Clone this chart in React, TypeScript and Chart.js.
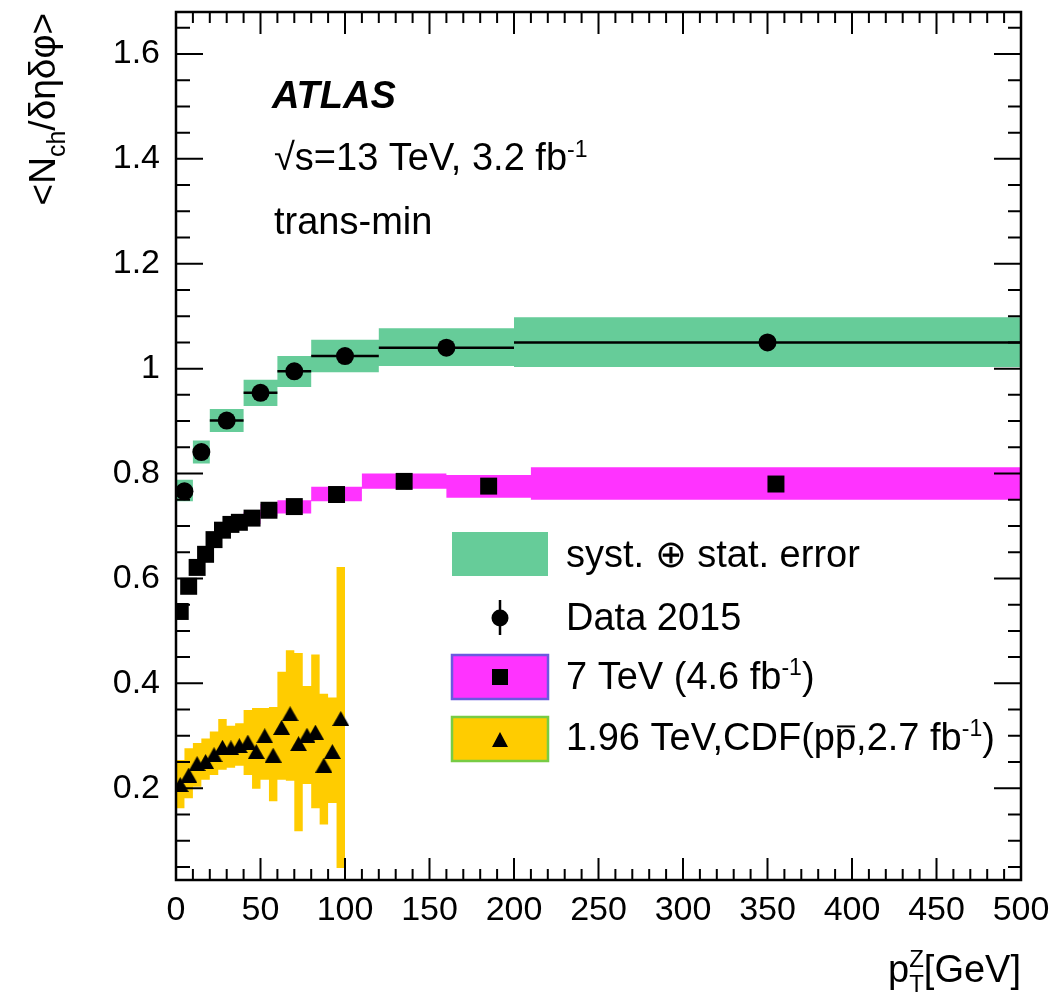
import React, { useEffect, useRef } from "react";
import { Chart, registerables } from "chart.js";

Chart.register(...registerables);

const FONT = "'Liberation Sans', Arial, Helvetica, sans-serif";
const TXT = 38;

// ---- axis ticks ----
const xTickValues = [0, 50, 100, 150, 200, 250, 300, 350, 400, 450, 500];
const yTickValues = [0.2, 0.4, 0.6, 0.8, 1.0, 1.2, 1.4, 1.6];
const yTickLabels = ["0.2", "0.4", "0.6", "0.8", "1", "1.2", "1.4", "1.6"];

// ---- Data 2015 (13 TeV) ----
const dataEdges = [0, 10, 20, 40, 60, 80, 120, 200, 500];
const dataCenters = [5, 15, 30, 50, 70, 100, 160, 350];
const dataValues = [0.766, 0.841, 0.901, 0.954, 0.995, 1.024, 1.04, 1.05];
const dataBandLow = [0.747, 0.819, 0.879, 0.929, 0.965, 0.993, 1.005, 1.003];
const dataBandHigh = [0.788, 0.863, 0.923, 0.979, 1.024, 1.055, 1.077, 1.098];

// ---- 7 TeV ----
const sevenEdges = [0, 5, 10, 15, 20, 25, 30, 35, 40, 50, 60, 80, 110, 160, 210, 500];
const sevenCenters = [2.5, 7.5, 12.5, 17.5, 22.5, 27.5, 32.5, 37.5, 45, 55, 70, 95, 135, 185, 355];
const sevenValues = [0.537, 0.585, 0.621, 0.646, 0.674, 0.692, 0.703, 0.707, 0.715, 0.73, 0.737, 0.76, 0.785, 0.776, 0.78];
const sevenBandLow = [0.527, 0.575, 0.611, 0.636, 0.663, 0.681, 0.692, 0.696, 0.704, 0.718, 0.724, 0.747, 0.771, 0.754, 0.75];
const sevenBandHigh = [0.547, 0.595, 0.631, 0.656, 0.685, 0.703, 0.714, 0.718, 0.726, 0.742, 0.749, 0.775, 0.8, 0.797, 0.812];

// ---- CDF 1.96 TeV ----
const cdfEdges = [0, 5, 10, 15, 20, 25, 30, 35, 40, 45, 50, 55, 60, 65, 70, 75, 80, 85, 90, 95, 100];
const cdfCenters = [2.5, 7.5, 12.5, 17.5, 22.5, 27.5, 32.5, 37.5, 42.5, 47.5, 52.5, 57.5, 62.5, 67.5, 72.5, 77.5, 82.5, 87.5, 92.5, 97.5];
const cdfValues = [0.207, 0.225, 0.247, 0.251, 0.264, 0.278, 0.277, 0.281, 0.288, 0.27, 0.3, 0.263, 0.316, 0.342, 0.285, 0.301, 0.307, 0.244, 0.27, 0.333];
const cdfBandLow = [0.162, 0.181, 0.203, 0.216, 0.225, 0.235, 0.239, 0.243, 0.225, 0.199, 0.216, 0.175, 0.216, 0.214, 0.118, 0.208, 0.162, 0.131, 0.172, 0.048];
const cdfBandHigh = [0.254, 0.276, 0.286, 0.295, 0.308, 0.332, 0.319, 0.324, 0.349, 0.353, 0.353, 0.355, 0.422, 0.463, 0.458, 0.395, 0.455, 0.38, 0.373, 0.622];

const GREEN = "#66CC99";
const MAGENTA = "#FF33FF";
const YELLOW = "#FFCC00";
const MAGENTA_EDGE = "#6A5ADF";
const YELLOW_EDGE = "#77CC44";

function stepPoints(edges: number[], vals: number[]) {
  const pts = vals.map((v, i) => ({ x: edges[i], y: v }));
  pts.push({ x: edges[edges.length - 1], y: vals[vals.length - 1] });
  return pts;
}

function pairPoints(xs: number[], ys: number[]) {
  return xs.map((x, i) => ({ x, y: ys[i] }));
}

function xErrPoints(edges: number[], vals: number[]) {
  const pts: { x: number; y: number | null }[] = [];
  vals.forEach((v, i) => {
    pts.push({ x: edges[i], y: v });
    pts.push({ x: edges[i + 1], y: v });
    pts.push({ x: edges[i + 1], y: null });
  });
  return pts;
}

type Part = { t: string; size: number; dy?: number; bold?: boolean; italic?: boolean; over?: boolean };

function fontOf(p: Part) {
  return `${p.italic ? "italic " : ""}${p.bold ? "bold " : ""}${p.size}px ${FONT}`;
}

function partsWidth(ctx: CanvasRenderingContext2D, parts: Part[]) {
  let w = 0;
  for (const p of parts) {
    ctx.font = fontOf(p);
    w += ctx.measureText(p.t).width;
  }
  return w;
}

function drawParts(ctx: CanvasRenderingContext2D, x: number, y: number, parts: Part[]) {
  let cx = x;
  for (const p of parts) {
    ctx.font = fontOf(p);
    const dy = p.dy || 0;
    ctx.fillText(p.t, cx, y + dy);
    const w = ctx.measureText(p.t).width;
    if (p.over) {
      ctx.save();
      ctx.lineWidth = 2;
      ctx.beginPath();
      ctx.moveTo(cx + 2, y + dy - p.size * 0.62);
      ctx.lineTo(cx + w - 1, y + dy - p.size * 0.62);
      ctx.stroke();
      ctx.restore();
    }
    cx += w;
  }
  return cx;
}

function makeTriangle(w: number, h: number) {
  const c = document.createElement("canvas");
  c.width = w;
  c.height = h;
  const g = c.getContext("2d")!;
  g.fillStyle = "#000";
  g.beginPath();
  g.moveTo(0, h);
  g.lineTo(w, h);
  g.lineTo(w / 2, 0);
  g.closePath();
  g.fill();
  return c;
}

const decorPlugin = {
  id: "atlasDecor",
  afterDatasetsDraw(chart: any) {
    const { ctx, chartArea: ca, scales } = chart;
    const xs = scales.x;
    const ys = scales.y;
    ctx.save();
    ctx.strokeStyle = "#000";
    ctx.lineWidth = 2;
    ctx.beginPath();
    for (let v = 0; v <= 500; v += 10) {
      const px = xs.getPixelForValue(v);
      const len = v % 50 === 0 ? 22 : 11;
      ctx.moveTo(px, ca.bottom);
      ctx.lineTo(px, ca.bottom - len);
      ctx.moveTo(px, ca.top);
      ctx.lineTo(px, ca.top + len);
    }
    for (let k = 1; k <= 33; k++) {
      const v = k * 0.05;
      const py = ys.getPixelForValue(v);
      if (py < ca.top || py > ca.bottom) continue;
      const major = k % 4 === 0;
      const lenL = major ? 27 : 14;
      const lenR = major ? 27 : 13;
      ctx.moveTo(ca.left, py);
      ctx.lineTo(ca.left + lenL, py);
      ctx.moveTo(ca.right, py);
      ctx.lineTo(ca.right - lenR, py);
    }
    ctx.stroke();
    ctx.lineWidth = 2.5;
    ctx.strokeRect(ca.left, ca.top, ca.right - ca.left, ca.bottom - ca.top);
    ctx.restore();
  },
  afterDraw(chart: any) {
    const { ctx } = chart;
    ctx.save();
    ctx.fillStyle = "#000";
    ctx.strokeStyle = "#000";
    ctx.textBaseline = "alphabetic";
    ctx.textAlign = "left";

    // ATLAS label block
    drawParts(ctx, 272, 108, [{ t: "ATLAS", size: TXT, bold: true, italic: true }]);
    drawParts(ctx, 274, 170, [
      { t: "\u221As=13 TeV, 3.2 fb", size: TXT },
      { t: "-1", size: 23, dy: -13 },
    ]);
    drawParts(ctx, 274, 234, [{ t: "trans-min", size: TXT }]);

    // Y axis title (rotated)
    const yParts: Part[] = [
      { t: "<N", size: 37 },
      { t: "ch", size: 25, dy: 10 },
      { t: "/\u03B4\u03B7\u03B4\u03C6>", size: 37 },
    ];
    const yw = partsWidth(ctx, yParts);
    ctx.save();
    ctx.translate(55, 13 + yw);
    ctx.rotate(-Math.PI / 2);
    drawParts(ctx, 0, 0, yParts);
    ctx.restore();

    // X axis title: p_T^Z[GeV], right aligned
    ctx.font = `${TXT}px ${FONT}`;
    const wGeV = ctx.measureText("[GeV]").width;
    const wP = ctx.measureText("p").width;
    ctx.font = `24px ${FONT}`;
    const wZ = Math.max(ctx.measureText("Z").width, ctx.measureText("T").width);
    const xRight = 1021;
    const base = 982;
    const xStart = xRight - wGeV - wZ - wP;
    ctx.font = `${TXT}px ${FONT}`;
    ctx.fillText("p", xStart, base);
    ctx.font = `24px ${FONT}`;
    ctx.fillText("Z", xStart + wP, base - 15);
    ctx.fillText("T", xStart + wP, base + 10);
    ctx.font = `${TXT}px ${FONT}`;
    ctx.fillText("[GeV]", xStart + wP + wZ, base);

    // Legend
    const bx = 452;
    const bw = 96;
    const bh = 44;
    ctx.fillStyle = GREEN;
    ctx.fillRect(bx, 532, bw, bh);

    ctx.fillStyle = MAGENTA;
    ctx.fillRect(bx, 655, bw, bh);
    ctx.strokeStyle = MAGENTA_EDGE;
    ctx.lineWidth = 2.5;
    ctx.strokeRect(bx, 655, bw, bh);

    ctx.fillStyle = YELLOW;
    ctx.fillRect(bx, 717, bw, bh);
    ctx.strokeStyle = YELLOW_EDGE;
    ctx.strokeRect(bx, 717, bw, bh);

    ctx.fillStyle = "#000";
    ctx.strokeStyle = "#000";
    // data marker
    ctx.lineWidth = 2.5;
    ctx.beginPath();
    ctx.moveTo(500, 600);
    ctx.lineTo(500, 635);
    ctx.stroke();
    ctx.beginPath();
    ctx.arc(500, 618, 8.5, 0, Math.PI * 2);
    ctx.fill();
    // square marker
    ctx.fillRect(492, 669, 16, 16);
    // triangle marker
    ctx.beginPath();
    ctx.moveTo(492, 747);
    ctx.lineTo(508, 747);
    ctx.lineTo(500, 732);
    ctx.closePath();
    ctx.fill();

    const tx = 566;
    drawParts(ctx, tx, 567, [{ t: "syst. \u2295 stat. error", size: TXT }]);
    drawParts(ctx, tx, 630, [{ t: "Data 2015", size: TXT }]);
    drawParts(ctx, tx, 689, [
      { t: "7 TeV (4.6 fb", size: TXT },
      { t: "-1", size: 23, dy: -14 },
      { t: ")", size: TXT },
    ]);
    drawParts(ctx, tx, 750, [
      { t: "1.96 TeV,CDF(p", size: TXT },
      { t: "p", size: TXT, over: true },
      { t: ",2.7 fb", size: TXT },
      { t: "-1", size: 23, dy: -14 },
      { t: ")", size: TXT },
    ]);
    ctx.restore();
  },
};

export default function App() {
  const ref = useRef<HTMLCanvasElement | null>(null);

  useEffect(() => {
    if (!ref.current) return;
    const tri = makeTriangle(17, 15);

    const bandCommon = {
      type: "line" as const,
      pointRadius: 0,
      borderWidth: 0,
      borderColor: "transparent",
      stepped: true,
      showLine: true,
      order: 5,
    };

    const chart = new Chart(ref.current, {
      type: "line",
      data: {
        datasets: [
          {
            label: "Data 2015",
            data: pairPoints(dataCenters, dataValues),
            showLine: false,
            pointStyle: "circle",
            pointRadius: 9,
            pointBackgroundColor: "#000",
            pointBorderWidth: 0,
            order: 0,
          },
          {
            label: "7 TeV",
            data: pairPoints(sevenCenters, sevenValues),
            showLine: false,
            pointStyle: "rect",
            pointRadius: 12,
            pointBackgroundColor: "#000",
            pointBorderWidth: 0,
            order: 0,
          },
          {
            label: "CDF",
            data: pairPoints(cdfCenters, cdfValues),
            showLine: false,
            pointStyle: tri as any,
            pointRadius: 9,
            pointBackgroundColor: "#000",
            pointBorderWidth: 0,
            order: 0,
          },
          {
            label: "Data x-err",
            data: xErrPoints(dataEdges, dataValues) as any,
            showLine: true,
            borderColor: "#000",
            borderWidth: 2.5,
            pointRadius: 0,
            spanGaps: false,
            order: 1,
          },
          { ...bandCommon, label: "green hi", data: stepPoints(dataEdges, dataBandHigh), fill: "+1", backgroundColor: GREEN },
          { ...bandCommon, label: "green lo", data: stepPoints(dataEdges, dataBandLow), fill: false, backgroundColor: GREEN },
          { ...bandCommon, label: "mag hi", data: stepPoints(sevenEdges, sevenBandHigh), fill: "+1", backgroundColor: MAGENTA },
          { ...bandCommon, label: "mag lo", data: stepPoints(sevenEdges, sevenBandLow), fill: false, backgroundColor: MAGENTA },
          { ...bandCommon, label: "yel hi", data: stepPoints(cdfEdges, cdfBandHigh), fill: "+1", backgroundColor: YELLOW },
          { ...bandCommon, label: "yel lo", data: stepPoints(cdfEdges, cdfBandLow), fill: false, backgroundColor: YELLOW },
        ] as any,
      },
      options: {
        responsive: false,
        animation: false,
        events: [],
        layout: { padding: { top: 10, right: 42, left: 0, bottom: 0 } },
        plugins: {
          legend: { display: false },
          tooltip: { enabled: false },
          title: { display: false },
        },
        scales: {
          x: {
            type: "linear",
            min: 0,
            max: 500,
            grid: { display: false },
            border: { display: false },
            afterBuildTicks: (s: any) => {
              s.ticks = xTickValues.map((v) => ({ value: v }));
            },
            afterFit: (s: any) => {
              s.height = 120;
              s.paddingLeft = 0;
              s.paddingRight = 0;
            },
            ticks: {
              autoSkip: false,
              maxRotation: 0,
              padding: 2,
              color: "#000",
              font: { family: FONT, size: 34 },
              callback: (v: any) => String(v),
            },
          },
          y: {
            type: "linear",
            min: 0.025,
            max: 1.68,
            grid: { display: false },
            border: { display: false },
            afterBuildTicks: (s: any) => {
              s.ticks = yTickValues.map((v) => ({ value: v }));
            },
            afterFit: (s: any) => {
              s.width = 176;
              s.paddingTop = 0;
              s.paddingBottom = 0;
            },
            ticks: {
              autoSkip: false,
              padding: 8,
              color: "#000",
              font: { family: FONT, size: 34 },
              callback: (_v: any, i: number) => yTickLabels[i],
            },
          },
        },
      } as any,
      plugins: [decorPlugin],
    });

    return () => chart.destroy();
  }, []);

  return (
    <div style={{ position: "absolute", left: 0, top: 0, width: 1063, height: 1000, background: "#fff" }}>
      <canvas ref={ref} width={1063} height={1000} style={{ display: "block" }} />
    </div>
  );
}
